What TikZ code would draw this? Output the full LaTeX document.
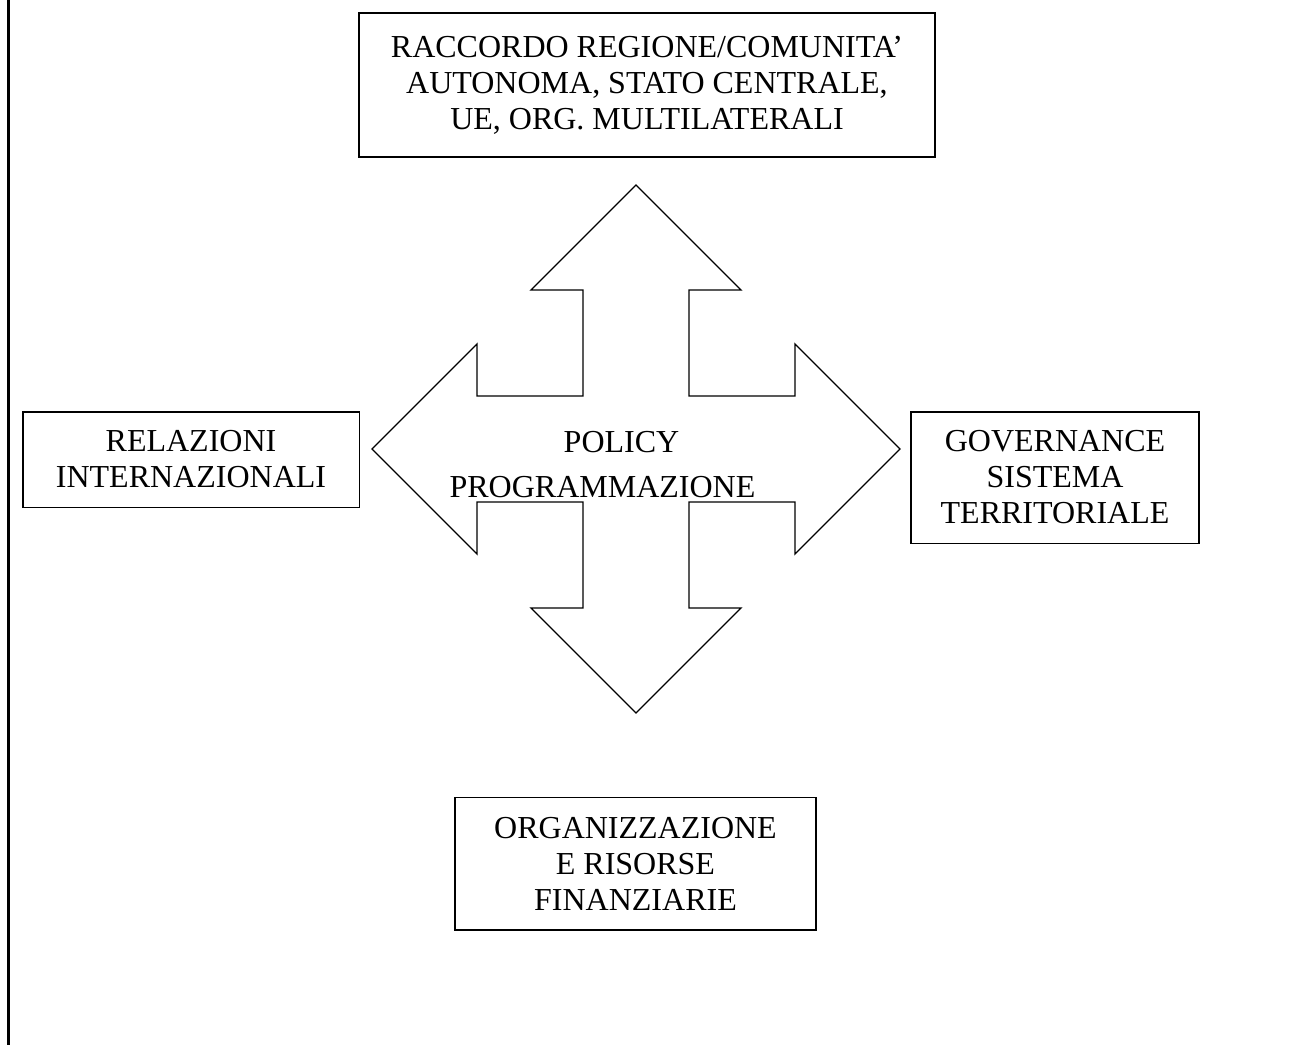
\documentclass[tikz,border=0pt]{standalone}
\usepackage{fontspec}
\setmainfont{Liberation Serif}
\usepackage{tikz}
\tikzset{>=latex}
\tikzset{box/.style={draw,line width=0.8pt,inner sep=0pt,align=center,font=\fontsize{16}{18}\selectfont}}
\tikzset{midtext/.style={inner sep=0pt,anchor=base,font=\fontsize{16}{18}\selectfont}}

\begin{document}
\begin{tikzpicture}[x=0.5pt,y=-0.5pt]
  \useasboundingbox (0,0) rectangle (1311,1045);

  % Margin
  \draw[line width=1.35pt] (8.7,0) -- (8.7,1045);

  % Boxes
  \node[box,minimum width=288pt,minimum height=72pt] (raccordo) at (647,85)
    {RACCORDO REGIONE/COMUNITA’\\AUTONOMA, STATO CENTRALE,\\UE, ORG. MULTILATERALI};
  \node[box,minimum width=168.3pt,minimum height=47.8pt] (relazioni) at (191,459.5)
    {RELAZIONI\\INTERNAZIONALI};
  \node[box,minimum width=144.2pt,minimum height=65.8pt] (governance) at (1055,477.5)
    {GOVERNANCE\\SISTEMA\\TERRITORIALE};
  \node[box,minimum width=180.5pt,minimum height=66.4pt] (organizzazione) at (635.5,863.7)
    {ORGANIZZAZIONE\\E RISORSE\\FINANZIARIE};

  % Four-way arrow
  \begin{scope}[shift={(636,449)},line width=0.65pt]
    \draw (0,-264) -- (105,-159) -- (53,-159) -- (53,-53) -- (159,-53) -- (159,-105)
      -- (264,0) -- (159,105) -- (159,53) -- (53,53) -- (53,159) -- (105,159)
      -- (0,264) -- (-105,159) -- (-53,159) -- (-53,53) -- (-159,53) -- (-159,105)
      -- (-264,0) -- (-159,-105) -- (-159,-53) -- (-53,-53) -- (-53,-159) -- (-105,-159)
      -- cycle;
  \end{scope}

  % Labels
  \node[midtext] (policy) at (621.5,452) {POLICY};
  \node[midtext] (programmazione) at (602.5,497) {PROGRAMMAZIONE};

\end{tikzpicture}
\end{document}
